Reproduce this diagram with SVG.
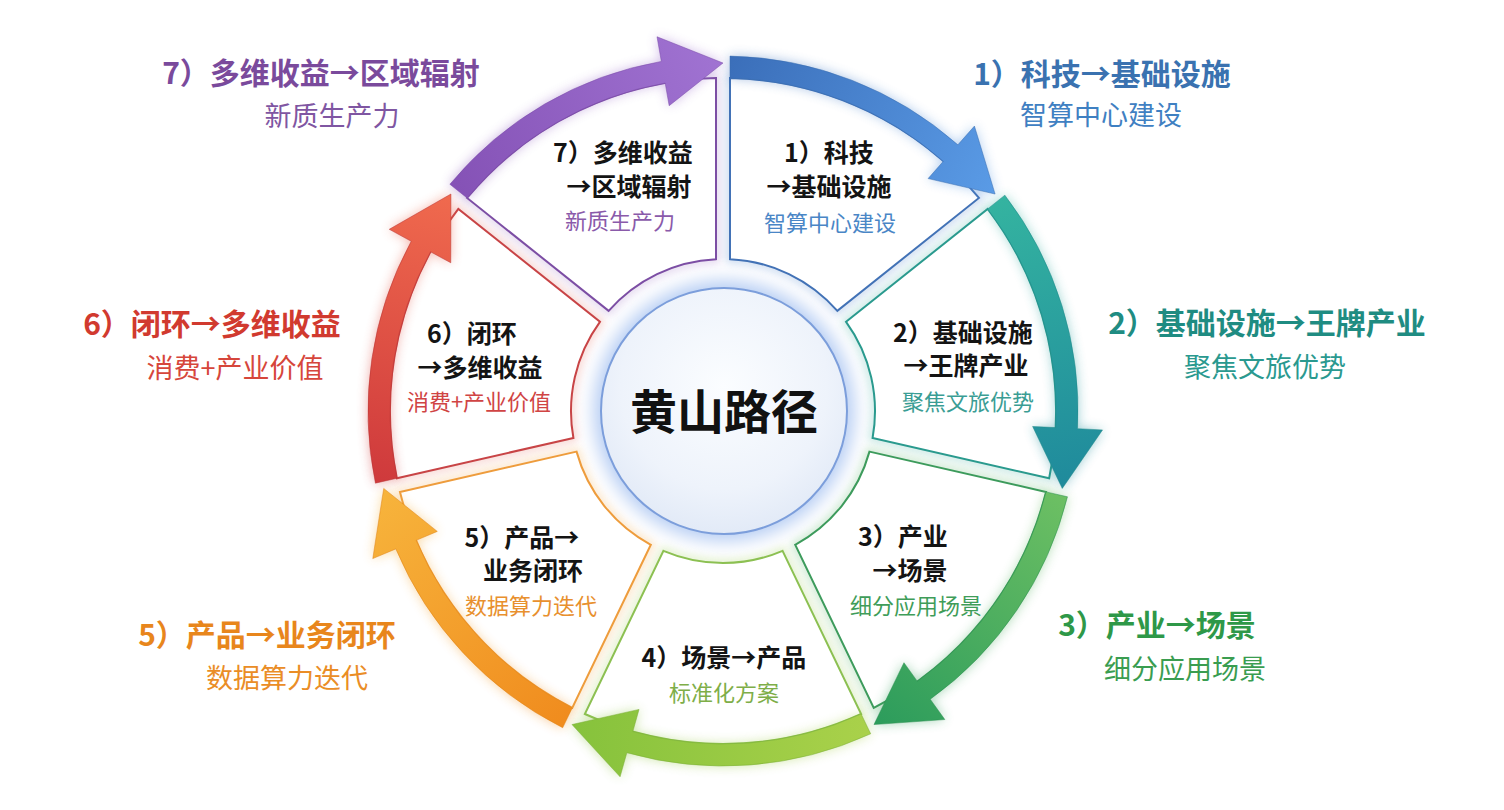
<svg xmlns="http://www.w3.org/2000/svg" width="1504" height="810" viewBox="0 0 1504 810">
<defs>
<style>
text{font-family:"Noto Sans CJK SC","Noto Sans",sans-serif;text-anchor:middle}
.t{font-size:25px;font-weight:700;fill:#141414}
.s{font-size:22px;font-weight:400}
.ot{font-size:30px;font-weight:700}
.os{font-size:27px;font-weight:400}
.seg{fill:#ffffff;stroke-width:2}
.sglow{fill:none;stroke-width:7;opacity:.45}
</style>
<filter id="blur6" x="-30%" y="-30%" width="160%" height="160%"><feGaussianBlur stdDeviation="6"/></filter>
<filter id="blur4" x="-30%" y="-30%" width="160%" height="160%"><feGaussianBlur stdDeviation="4"/></filter>
<filter id="blur9" x="-30%" y="-30%" width="160%" height="160%"><feGaussianBlur stdDeviation="9"/></filter>
<radialGradient id="gCenter" cx="50%" cy="40%" r="60%">
<stop offset="0" stop-color="#fbfdff"/><stop offset="0.7" stop-color="#eef3fb"/><stop offset="1" stop-color="#e2eaf7"/>
</radialGradient>
<linearGradient id="g1" gradientUnits="userSpaceOnUse" x1="730" y1="66" x2="995" y2="194"><stop offset="0" stop-color="#3b6fba"/><stop offset="1" stop-color="#5a9be6"/></linearGradient>
<linearGradient id="g2" gradientUnits="userSpaceOnUse" x1="1000" y1="200" x2="1062" y2="488"><stop offset="0" stop-color="#34b3a0"/><stop offset="1" stop-color="#1f8a9c"/></linearGradient>
<linearGradient id="g3" gradientUnits="userSpaceOnUse" x1="1058" y1="495" x2="874" y2="724"><stop offset="0" stop-color="#6cbf63"/><stop offset="1" stop-color="#2c9c5c"/></linearGradient>
<linearGradient id="g4" gradientUnits="userSpaceOnUse" x1="866" y1="724" x2="572" y2="724"><stop offset="0" stop-color="#a9d14a"/><stop offset="1" stop-color="#86c23c"/></linearGradient>
<linearGradient id="g5" gradientUnits="userSpaceOnUse" x1="567" y1="718" x2="384" y2="488"><stop offset="0" stop-color="#f08c1e"/><stop offset="1" stop-color="#f7b43c"/></linearGradient>
<linearGradient id="g6" gradientUnits="userSpaceOnUse" x1="386" y1="481" x2="451" y2="194"><stop offset="0" stop-color="#cf3a3c"/><stop offset="1" stop-color="#f06a4e"/></linearGradient>
<linearGradient id="g7" gradientUnits="userSpaceOnUse" x1="458" y1="191" x2="723" y2="63"><stop offset="0" stop-color="#8552b6"/><stop offset="1" stop-color="#a073d2"/></linearGradient>
<path id="p1" d="M 730,259.16 L 730,78.07 A 333 333 0 0 1 978.94,197.95 L 837.35,310.86 A 152 152 0 0 0 730,259.16 Z"/>
<path id="p2" d="M 846.07,321.80 L 987.66,208.89 A 333 333 0 0 1 1049.14,478.26 L 872.59,437.97 A 152 152 0 0 0 846.07,321.80 Z"/>
<path id="p3" d="M 869.47,451.62 L 1046.02,491.91 A 333 333 0 0 1 873.76,707.92 L 795.19,544.76 A 152 152 0 0 0 869.47,451.62 Z"/>
<path id="p4" d="M 782.57,550.84 L 861.14,714.00 A 333 333 0 0 1 584.86,714.00 L 663.43,550.84 A 152 152 0 0 0 782.57,550.84 Z"/>
<path id="p5" d="M 650.81,544.76 L 572.24,707.92 A 333 333 0 0 1 399.98,491.91 L 576.53,451.62 A 152 152 0 0 0 650.81,544.76 Z"/>
<path id="p6" d="M 573.41,437.97 L 396.86,478.26 A 333 333 0 0 1 458.34,208.89 L 599.93,321.80 A 152 152 0 0 0 573.41,437.97 Z"/>
<path id="p7" d="M 608.65,310.86 L 467.06,197.95 A 333 333 0 0 1 716,78.07 L 716,259.16 A 152 152 0 0 0 608.65,310.86 Z"/>
<path id="a1" d="M 730,56.07 A 355 355 0 0 1 957.89,144.82 L 974.43,126.08 L 995.08,194.03 L 928.11,178.56 L 943.33,161.32 A 333 333 0 0 0 730,78.07 Z"/>
<path id="a2" d="M 1004.85,195.18 A 355 355 0 0 1 1077.56,428.70 L 1102.53,429.94 L 1062.28,488.44 L 1032.62,426.45 L 1055.59,427.60 A 333 333 0 0 0 987.66,208.89 Z"/>
<path id="a3" d="M 1067.47,496.81 A 355 355 0 0 1 930.23,699.24 L 944.82,719.54 L 873.99,724.54 L 903.96,662.70 L 917.39,681.38 A 333 333 0 0 0 1046.02,491.91 Z"/>
<path id="a4" d="M 870.69,733.82 A 355 355 0 0 1 626.85,752.73 L 620.08,776.80 L 572.01,724.54 L 639.04,709.41 L 632.81,731.55 A 333 333 0 0 0 861.14,714.00 Z"/>
<path id="a5" d="M 562.69,727.74 A 355 355 0 0 1 395.82,548.89 L 372.78,558.60 L 383.72,488.44 L 437.30,531.41 L 416.10,540.35 A 333 333 0 0 0 572.24,707.92 Z"/>
<path id="a6" d="M 375.41,483.16 A 355 355 0 0 1 411.23,241.26 L 389.28,229.30 L 450.92,194.03 L 450.75,262.77 L 430.55,251.78 A 333 333 0 0 0 396.86,478.26 Z"/>
<path id="a7" d="M 449.87,184.24 A 355 355 0 0 1 661.35,61.39 L 657.01,36.77 L 723,63 L 669.17,105.71 L 665.17,83.06 A 333 333 0 0 0 467.06,197.95 Z"/>
</defs>
<rect width="1504" height="810" fill="#ffffff"/>

<g id="node-center">
<circle cx="724" cy="411" r="130" fill="#b3cbf3" filter="url(#blur9)"/>
<circle cx="724" cy="411" r="123" fill="url(#gCenter)" stroke="#7c9edb" stroke-width="2"/>
<text x="724" y="429" style="font-size:47px;font-weight:700;fill:#111">黄山路径</text>
</g>

<g id="node-1">
<use href="#p1" class="sglow" stroke="#7fa6dc" filter="url(#blur4)"/>
<use href="#p1" class="seg" stroke="#4272b6"/>
<text class="t" x="829" y="162">1）科技</text>
<text class="t" x="829" y="196">→基础设施</text>
<text class="s" x="830" y="231" fill="#4a86c6">智算中心建设</text>
</g>
<g id="node-2">
<use href="#p2" class="sglow" stroke="#76c6bb" filter="url(#blur4)"/>
<use href="#p2" class="seg" stroke="#2a9a8e"/>
<text class="t" x="963" y="342">2）基础设施</text>
<text class="t" x="966" y="375">→王牌产业</text>
<text class="s" x="968" y="410" fill="#3a9d94">聚焦文旅优势</text>
</g>
<g id="node-3">
<use href="#p3" class="sglow" stroke="#84c88e" filter="url(#blur4)"/>
<use href="#p3" class="seg" stroke="#3d9b5c"/>
<text class="t" x="903" y="546">3）产业</text>
<text class="t" x="910" y="580">→场景</text>
<text class="s" x="916" y="614" fill="#3f9d59">细分应用场景</text>
</g>
<g id="node-4">
<use href="#p4" class="sglow" stroke="#b7db84" filter="url(#blur4)"/>
<use href="#p4" class="seg" stroke="#8cc052"/>
<text class="t" x="724" y="667">4）场景→产品</text>
<text class="s" x="724" y="701" fill="#7eae48">标准化方案</text>
</g>
<g id="node-5">
<use href="#p5" class="sglow" stroke="#f7c27e" filter="url(#blur4)"/>
<use href="#p5" class="seg" stroke="#ee9c3c"/>
<text class="t" x="522" y="547">5）产品→</text>
<text class="t" x="533" y="580">业务闭环</text>
<text class="s" x="531" y="614" fill="#e8902e">数据算力迭代</text>
</g>
<g id="node-6">
<use href="#p6" class="sglow" stroke="#ec9a92" filter="url(#blur4)"/>
<use href="#p6" class="seg" stroke="#c84446"/>
<text class="t" x="472" y="343">6）闭环</text>
<text class="t" x="480" y="377">→多维收益</text>
<text class="s" x="479" y="410" fill="#d04444">消费+产业价值</text>
</g>
<g id="node-7">
<use href="#p7" class="sglow" stroke="#b89bd6" filter="url(#blur4)"/>
<use href="#p7" class="seg" stroke="#7c4ea4"/>
<text class="t" x="623" y="162">7）多维收益</text>
<text class="t" x="629" y="196">→区域辐射</text>
<text class="s" x="620" y="229" fill="#8a5aaa">新质生产力</text>
</g>

<g id="connectors">
<use href="#a1" fill="url(#g1)" opacity="0.45" filter="url(#blur6)"/>
<use href="#a2" fill="url(#g2)" opacity="0.45" filter="url(#blur6)"/>
<use href="#a3" fill="url(#g3)" opacity="0.45" filter="url(#blur6)"/>
<use href="#a4" fill="url(#g4)" opacity="0.45" filter="url(#blur6)"/>
<use href="#a5" fill="url(#g5)" opacity="0.45" filter="url(#blur6)"/>
<use href="#a6" fill="url(#g6)" opacity="0.45" filter="url(#blur6)"/>
<use href="#a7" fill="url(#g7)" opacity="0.45" filter="url(#blur6)"/>
<use href="#a1" fill="url(#g1)" stroke="#3a6db0" stroke-width="1" stroke-opacity="0.5"/>
<use href="#a2" fill="url(#g2)" stroke="#1f8a8a" stroke-width="1" stroke-opacity="0.5"/>
<use href="#a3" fill="url(#g3)" stroke="#2a8f50" stroke-width="1" stroke-opacity="0.5"/>
<use href="#a4" fill="url(#g4)" stroke="#7aae36" stroke-width="1" stroke-opacity="0.5"/>
<use href="#a5" fill="url(#g5)" stroke="#e08418" stroke-width="1" stroke-opacity="0.5"/>
<use href="#a6" fill="url(#g6)" stroke="#b83434" stroke-width="1" stroke-opacity="0.5"/>
<use href="#a7" fill="url(#g7)" stroke="#7a4aa8" stroke-width="1" stroke-opacity="0.5"/>
</g>

<g id="label-1">
<text class="ot" x="1102" y="85" fill="#3a72b0">1）科技→基础设施</text>
<text class="os" x="1101" y="125" fill="#3f80c2">智算中心建设</text>
</g>
<g id="label-2">
<text class="ot" x="1267" y="334" fill="#1f8c82">2）基础设施→王牌产业</text>
<text class="os" x="1265" y="377" fill="#2a998f">聚焦文旅优势</text>
</g>
<g id="label-3">
<text class="ot" x="1157" y="636" fill="#2e9848">3）产业→场景</text>
<text class="os" x="1185" y="679" fill="#3a9d50">细分应用场景</text>
</g>
<g id="label-5">
<text class="ot" x="267" y="646" fill="#e8861c">5）产品→业务闭环</text>
<text class="os" x="287" y="688" fill="#ea8d26">数据算力迭代</text>
</g>
<g id="label-6">
<text class="ot" x="212" y="335" fill="#d13a2f">6）闭环→多维收益</text>
<text class="os" x="235" y="378" fill="#d6463b">消费+产业价值</text>
</g>
<g id="label-7">
<text class="ot" x="321" y="84" fill="#7a4a9c">7）多维收益→区域辐射</text>
<text class="os" x="332" y="126" fill="#7f56a2">新质生产力</text>
</g>
</svg>
